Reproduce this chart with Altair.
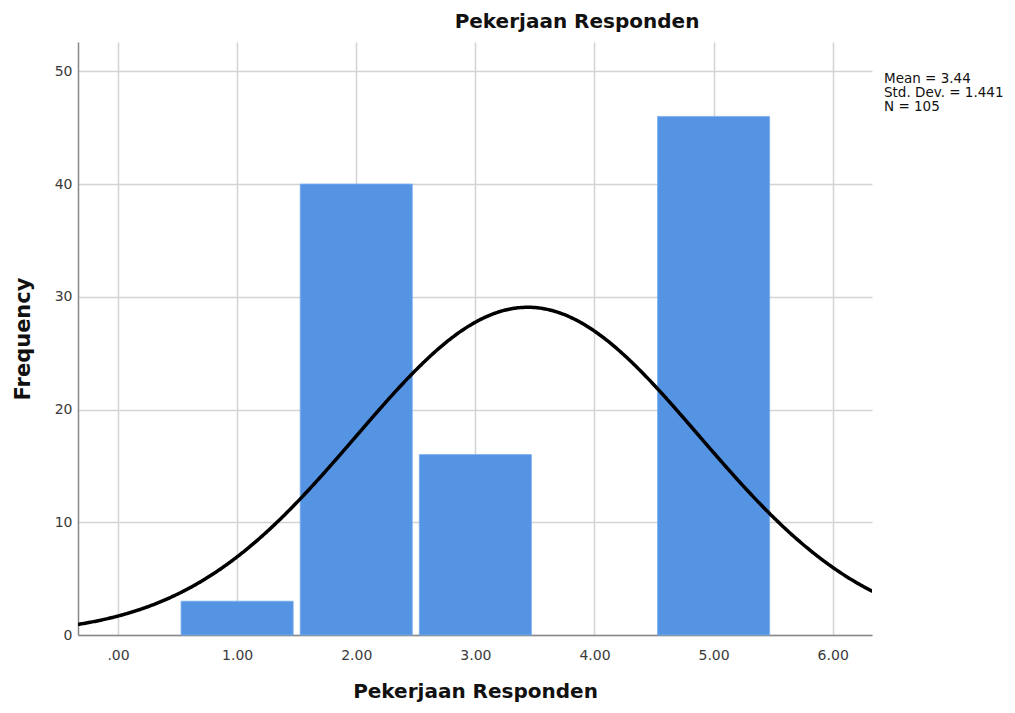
import altair as alt
import pandas as pd

# Histogram data (bin centres and counts)
categories = [1, 2, 3, 5]
counts = [3, 40, 16, 46]

# Reported statistics
mean_val = 3.44
std_val = 1.441
n_val = 105
bin_width = 1.0
stats_lines = ["Mean = 3.44", "Std. Dev. = 1.441", "N = 105"]

x_ticks = [0, 1, 2, 3, 4, 5, 6]
y_ticks = [0, 10, 20, 30, 40, 50]
x_domain = [-0.336, 6.33]
y_domain = [0, 52.6]

FONT = "DejaVu Sans"
BAR_COLOR = "#5593E3"

bars_df = pd.DataFrame({"value": categories, "count": counts})
bars_df["lo"] = bars_df["value"] - bin_width / 2
bars_df["hi"] = bars_df["value"] + bin_width / 2

x_scale = alt.Scale(domain=x_domain, nice=False, zero=False)
y_scale = alt.Scale(domain=y_domain, nice=False)

x_axis = alt.Axis(
    values=x_ticks,
    labelExpr="datum.value == 0 ? '.00' : format(datum.value, '.2f')",
    title="Pekerjaan Responden",
    titleFontSize=20, titleFont=FONT, titleFontWeight="bold", titleColor="#111",
    titlePadding=19,
    labelFont=FONT, labelFontSize=14, labelColor="#3a3a3a", labelPadding=13,
    ticks=False, domainColor="#888", domainWidth=1.5,
    grid=True, gridColor="#d3d3d3", gridWidth=1.5,
)
y_axis = alt.Axis(
    values=y_ticks,
    title="Frequency",
    titleFontSize=21, titleFont=FONT, titleFontWeight="bold", titleColor="#111",
    titlePadding=21,
    labelFont=FONT, labelFontSize=14, labelColor="#3a3a3a", labelPadding=6,
    ticks=False, domainColor="#888", domainWidth=1.5,
    grid=True, gridColor="#d3d3d3", gridWidth=1.5,
)

bars = alt.Chart(bars_df).mark_rect(
    color=BAR_COLOR, xOffset=3.5, x2Offset=-3.5, stroke="#7aaef0", strokeWidth=0.8
).encode(
    x=alt.X("lo:Q", scale=x_scale, axis=x_axis),
    x2="hi:Q",
    y=alt.Y("count:Q", scale=y_scale, axis=y_axis),
    y2=alt.datum(0),
)

curve = alt.Chart(
    alt.sequence(start=x_domain[0], stop=x_domain[1] + 0.01, step=0.01, as_="xv")
).transform_calculate(
    yv=f"{n_val} * {bin_width} / ({std_val} * sqrt(2 * PI)) * exp(-pow(datum.xv - {mean_val}, 2) / (2 * {std_val} * {std_val}))"
).mark_line(color="black", strokeWidth=3.5, clip=True).encode(
    x=alt.X("xv:Q", scale=x_scale),
    y=alt.Y("yv:Q", scale=y_scale),
)

stats = alt.Chart(pd.DataFrame({"t": ["\n".join(stats_lines)]})).mark_text(
    align="left", baseline="top", font=FONT, fontSize=13.5, color="#111",
    lineBreak="\n", lineHeight=14, clip=False,
).encode(
    x=alt.value(806), y=alt.value(30), text="t:N"
)

chart = alt.layer(bars, curve, stats).properties(
    width=794,
    height=593,
    background="white",
    autosize=alt.AutoSizeParams(type="none"),
    padding={"left": 70, "top": 34, "right": 135, "bottom": 70},
    title=alt.TitleParams(
        "Pekerjaan Responden", font=FONT, fontSize=20, fontWeight="bold",
        color="#111", anchor="middle", dx=102, offset=10,
    ),
).configure_view(stroke=None)

chart.save("out.html", embed_options={"renderer": "svg", "actions": False})
